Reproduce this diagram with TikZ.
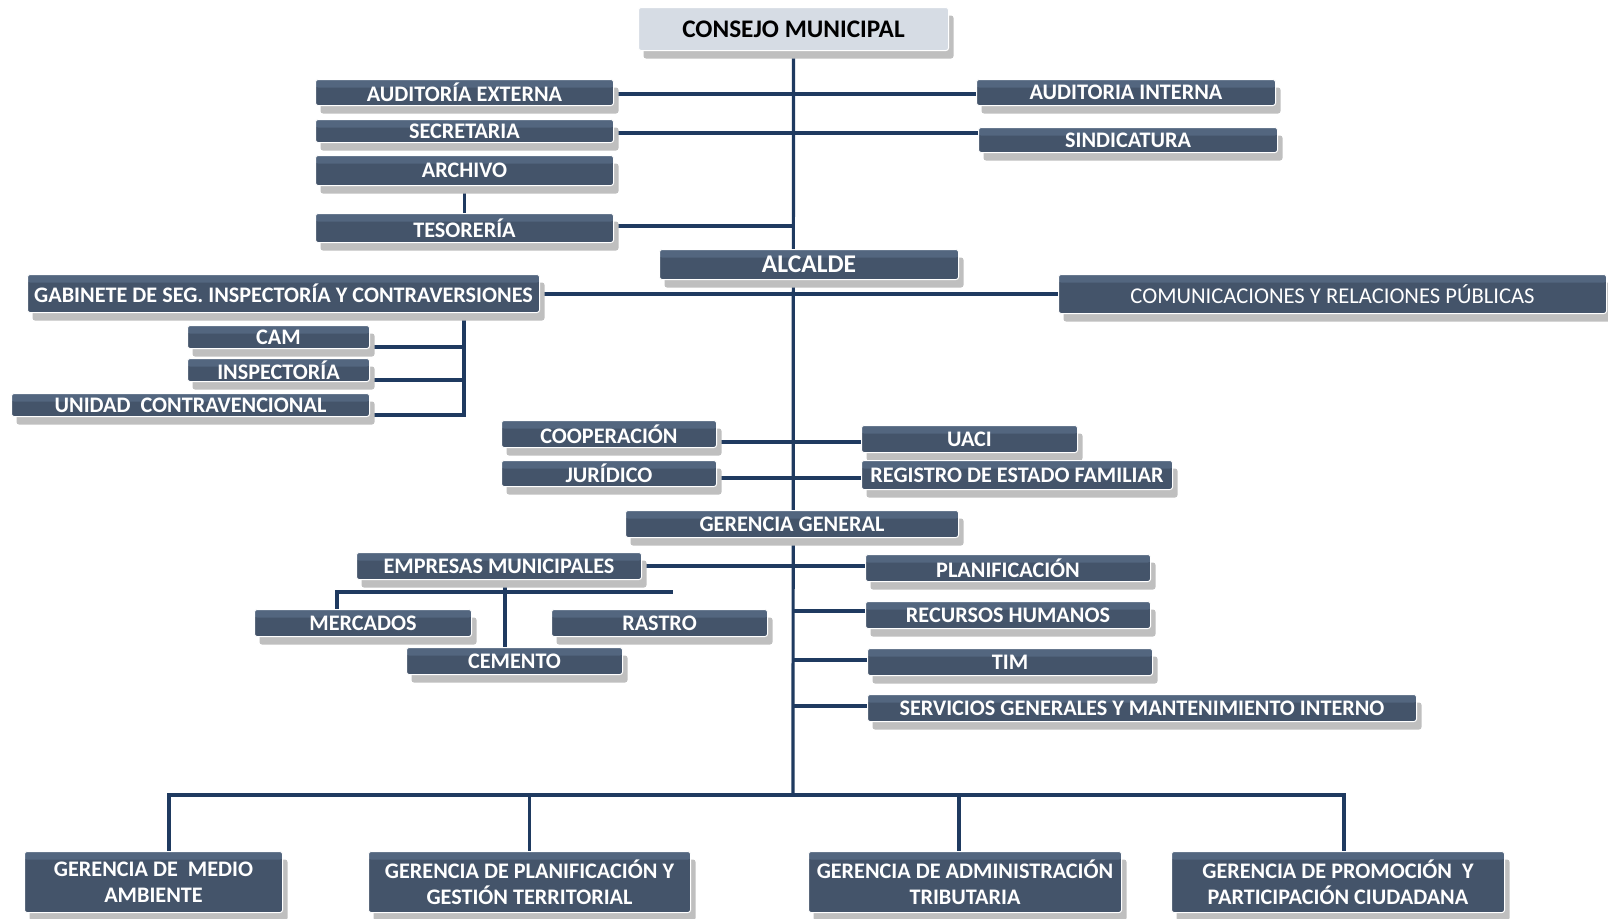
\documentclass[tikz,border=0pt]{standalone}
\usepackage{fontspec}
\setmainfont{Carlito}
\usetikzlibrary{positioning, shadows, backgrounds}

\definecolor{boxfill}{HTML}{44546A}
\definecolor{boxtop}{HTML}{53667F}
\definecolor{linkcol}{HTML}{1F3A60}
\definecolor{shade}{HTML}{BFBFBF}
\definecolor{councilfill}{HTML}{D6DCE4}

\tikzset{
  dims/.style 2 args={minimum width=#1pt, minimum height=#2pt},
  org/.style={rectangle, rounded corners=2.5pt, draw=white, line width=1pt,
    fill=boxfill, text=white, font=\bfseries\fontsize{22.2}{26}\selectfont,
    inner sep=0pt, anchor=north west, align=center,
    drop shadow={shadow xshift=5pt, shadow yshift=-8pt, fill=shade, opacity=1},
    path picture={\fill[boxtop] (path picture bounding box.north west)
      rectangle ([yshift=-8pt]path picture bounding box.north east);}},
  council/.style={org, fill=councilfill, text=black,
    font=\bfseries\fontsize{25.3}{30}\selectfont, path picture={}},
  gerencia/.style={org, font=\bfseries\fontsize{22.2}{26.5}\selectfont},
  link/.style={draw=linkcol, line width=3.2pt}
}

\begin{document}
\begin{tikzpicture}[x=1pt, y=-1pt]
    \useasboundingbox (0,0) rectangle (1608,918);

    % top
    \node[council, dims={310}{43}] (consejo) at (638,7) {CONSEJO MUNICIPAL};
    \node[org, dims={298}{26}] (audext) at (315,79) {AUDITORÍA EXTERNA};
    \node[org, dims={299}{26}] (audint) at (976,79) {AUDITORIA INTERNA};
    \node[org, dims={298}{23}] (secretaria) at (315,119) {SECRETARIA};
    \node[org, dims={299}{25}] (sindicatura) at (978,127) {SINDICATURA};
    \node[org, dims={298}{30}] (archivo) at (315,155) {ARCHIVO};
    \node[org, dims={298}{29}] (tesoreria) at (315,213) {TESORERÍA};
    \node[org, dims={299}{30}, font=\bfseries\fontsize{25.5}{30}\selectfont] (alcalde) at (659,249) {ALCALDE};

    % alcalde level
    \node[org, dims={512}{38}] (gabinete) at (27,274) {GABINETE DE SEG. INSPECTORÍA Y CONTRAVERSIONES};
    \node[org, dims={548}{39}, font=\fontsize{22.6}{26}\selectfont] (comunicaciones) at (1058,274) {COMUNICACIONES Y RELACIONES PÚBLICAS};
    \node[org, dims={182}{23}] (cam) at (187,325) {CAM};
    \node[org, dims={182}{23}] (inspectoria) at (187,358) {INSPECTORÍA};
    \node[org, dims={358}{23}] (unidad) at (11,393) {UNIDAD~ CONTRAVENCIONAL};
    \node[org, dims={215}{27}] (cooperacion) at (501,420) {COOPERACIÓN};
    \node[org, dims={215}{26}] (juridico) at (501,460) {JURÍDICO};
    \node[org, dims={216}{27}] (uaci) at (861,425) {UACI};
    \node[org, dims={311}{29}] (registro) at (861,460) {REGISTRO DE ESTADO FAMILIAR};

    % gerencia general
    \node[org, dims={333}{27}] (gergeneral) at (625,510) {GERENCIA GENERAL};
    \node[org, dims={285}{27}] (empresas) at (356,552) {EMPRESAS MUNICIPALES};
    \node[org, dims={217}{27}] (mercados) at (254,609) {MERCADOS};
    \node[org, dims={216}{27}] (rastro) at (551,609) {RASTRO};
    \node[org, dims={216}{27}] (cemento) at (406,647) {CEMENTO};
    \node[org, dims={285}{27}] (planificacion) at (865,554) {PLANIFICACIÓN};
    \node[org, dims={285}{27}] (rrhh) at (865,601) {RECURSOS HUMANOS};
    \node[org, dims={285}{27}] (tim) at (867,648) {TIM};
    \node[org, dims={549}{27}] (servicios) at (867,694) {SERVICIOS GENERALES Y MANTENIMIENTO INTERNO};

    % gerencias
    \node[gerencia, dims={258}{61}] (medioamb) at (24,851) {GERENCIA DE~ MEDIO\\AMBIENTE};
    \node[gerencia, dims={322}{61}] (planterr) at (368,851) {GERENCIA DE PLANIFICACIÓN Y\\GESTIÓN TERRITORIAL};
    \node[gerencia, dims={313}{61}] (tributaria) at (808,851) {GERENCIA DE ADMINISTRACIÓN\\TRIBUTARIA};
    \node[gerencia, dims={333}{61}] (promocion) at (1171,851) {GERENCIA DE PROMOCIÓN~ Y\\PARTICIPACIÓN CIUDADANA};

    \coordinate (bus) at (793,795);
    \coordinate (gabdrop) at (464,312);
    \coordinate (empbar) at (673,592);

    \begin{scope}[on background layer]
        \draw[link] (consejo.south) -- (bus);
        \draw[link] (audext.east |- 0,94) -- (audint.west |- 0,94);
        \draw[link] (secretaria.east |- 0,133) -- (sindicatura.west |- 0,133);
        \draw[link] (archivo.south) -- (tesoreria.north);
        \draw[link] (tesoreria.east |- 0,226) -- (bus |- 0,226);
        \draw[link] (gabinete.east |- 0,294) -- (comunicaciones.west |- 0,294);
        \draw[link] (gabdrop) |- ([yshift=2pt]unidad.south east);
        \draw[link] ([yshift=2pt]cam.south east) -| (gabdrop);
        \draw[link] ([yshift=2pt]inspectoria.south east) -| (gabdrop);
        \draw[link] (cooperacion.east |- 0,442) -- (uaci.west |- 0,442);
        \draw[link] (juridico.east |- 0,478) -- (registro.west |- 0,478);
        \draw[link] (empresas.east) -- (empresas.east -| planificacion.west);
        \draw[link] (empresas.south -| 505,0) -- (cemento.north -| 505,0);
        \draw[link] (mercados.north -| 337,0) |- (empbar);
        \draw[link] (bus |- 0,611) -- (rrhh.west |- 0,611);
        \draw[link] (bus |- 0,660) -- (tim.west |- 0,660);
        \draw[link] (bus |- 0,706) -- (servicios.west |- 0,706);
        \draw[link] (medioamb.north -| 169,0) |- (bus) -| (promocion.north -| 1344,0);
        \draw[link] (planterr.north) -- (planterr.north |- bus);
        \draw[link] (tributaria.north -| 959,0) -- (bus -| 959,0);
    \end{scope}
\end{tikzpicture}
\end{document}
